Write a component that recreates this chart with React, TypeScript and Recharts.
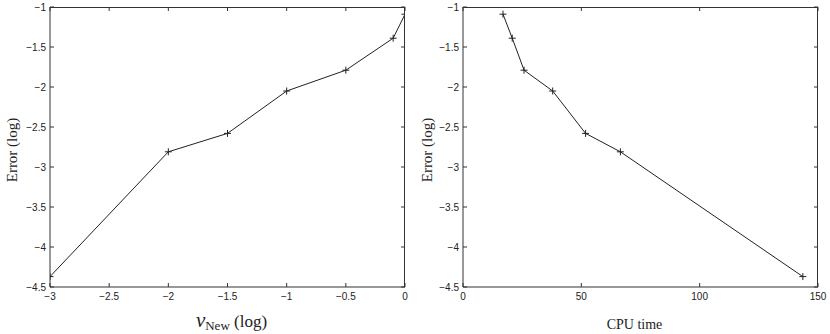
import React from "react";
import { LineChart, Line, XAxis, YAxis, Label } from "recharts";

// left panel: error vs viscosity (log)
const nuLog = [-3, -2, -1.5, -1, -0.5, -0.1, 0];
const errNu = [-4.37, -2.81, -2.58, -2.05, -1.79, -1.39, -1.09];

// right panel: error vs cpu time
const cpuTime = [16.9, 20.8, 25.8, 37.9, 51.8, 66.5, 143.6];
const errCpu = [-1.09, -1.39, -1.79, -2.05, -2.58, -2.81, -4.37];

const nuTicks = [-3, -2.5, -2, -1.5, -1, -0.5, 0];
const cpuTicks = [0, 50, 100, 150];
const errTicks = [-4.5, -4, -3.5, -3, -2.5, -2, -1.5, -1];
const errDomain = [-4.5, -1];

const leftData = nuLog.map((x, i) => ({ x, y: errNu[i] }));
const rightData = cpuTime.map((x, i) => ({ x, y: errCpu[i] }));

const W = 415;
const H = 334;
const TOP = 7;
const XAXIS_H = 47;

const FRAME = "#333";
const SANS = "'Liberation Sans', Arial, sans-serif";
const SERIF = "'Liberation Serif', 'Times New Roman', serif";

const fmt = (v: number) => (v < 0 ? "\u2212" + String(-v) : String(v));

const BottomTick = (p: any) => (
    <g>
        <line x1={p.x} y1={p.y} x2={p.x} y2={p.y - 4} stroke={FRAME} />
        <text x={p.x} y={p.y + 13} textAnchor="middle" fontSize={10} fontFamily={SANS} fill="#222">
            {fmt(p.payload.value)}
        </text>
    </g>
);
const LeftTick = (p: any) => (
    <g>
        <line x1={p.x} y1={p.y} x2={p.x + 4} y2={p.y} stroke={FRAME} />
        <text x={p.x - 4} y={p.y + 4} textAnchor="end" fontSize={10} fontFamily={SANS} fill="#222">
            {fmt(p.payload.value)}
        </text>
    </g>
);

const PlusDot = (p: any) => (
    <path
        key={p.index}
        d={`M${p.cx - 3.5},${p.cy}H${p.cx + 3.5}M${p.cx},${p.cy - 3.5}V${p.cy + 3.5}`}
        stroke="#222"
        strokeWidth={1}
        fill="none"
    />
);

const yLabel = (props: any) => {
    const vb = props.viewBox;
    const cy = vb.y + vb.height / 2 + 3;
    return (
        <text x={17} y={cy} transform={`rotate(-90 17 ${cy})`} textAnchor="middle"
            fontSize={15} fontFamily={SERIF} fill="#222">
            Error (log)
        </text>
    );
};

const nuLabel = (props: any) => {
    const vb = props.viewBox;
    return (
        <text x={vb.x + vb.width / 2 + 4} y={vb.y + 40} textAnchor="middle" fontFamily={SERIF} fill="#222" fontSize={17}>
            <tspan fontSize={21} fontStyle="italic">ν</tspan>
            <tspan fontSize={13} dy={3}>New</tspan>
            <tspan dy={-3}> (log)</tspan>
        </text>
    );
};

const cpuLabel = (props: any) => {
    const vb = props.viewBox;
    return (
        <text x={vb.x + vb.width / 2 - 6} y={vb.y + 42} textAnchor="middle" fontFamily={SERIF} fill="#222" fontSize={14}>
            CPU time
        </text>
    );
};

// box + inward ticks on top and right edges (matlab style frame)
function Frame(props: { left: number; right: number; xDomain: number[]; xTicks: number[] }) {
    const pw = W - props.left - props.right;
    const ph = H - TOP - XAXIS_H;
    const sx = (v: number) => props.left + ((v - props.xDomain[0]) / (props.xDomain[1] - props.xDomain[0])) * pw;
    const sy = (v: number) => TOP + ((errDomain[1] - v) / (errDomain[1] - errDomain[0])) * ph;
    return (
        <>
            <div style={{
                position: "absolute", left: props.left, top: TOP, width: pw, height: ph,
                borderTop: "1px solid " + FRAME, borderRight: "1px solid " + FRAME,
                boxSizing: "border-box", pointerEvents: "none", zIndex: 5,
            }} />
            <svg width={W} height={H} style={{ position: "absolute", left: 0, top: 0, pointerEvents: "none", zIndex: 6 }}>
                <line x1={props.left} x2={props.left + pw} y1={TOP + 0.5} y2={TOP + 0.5} stroke={FRAME} />
                <line x1={props.left + pw - 0.5} x2={props.left + pw - 0.5} y1={TOP} y2={TOP + ph} stroke={FRAME} />
                {props.xTicks.map((t) => (
                    <line key={"t" + t} x1={sx(t)} x2={sx(t)} y1={TOP} y2={TOP + 4} stroke={FRAME} />
                ))}
                {errTicks.map((t) => (
                    <line key={"r" + t} x1={props.left + pw} x2={props.left + pw - 4} y1={sy(t)} y2={sy(t)} stroke={FRAME} />
                ))}
            </svg>
        </>
    );
}

function Panel(props: { data: any[]; xDomain: number[]; xTicks: number[]; yWidth: number; right: number; xLabel: any }) {
    return (
        <div style={{ position: "relative", width: W, height: H, flex: "none" }}>
            <LineChart width={W} height={H} data={props.data}
                margin={{ top: TOP, right: props.right, left: 0, bottom: 0 }}>
                <XAxis dataKey="x" type="number" domain={props.xDomain} ticks={props.xTicks} allowDataOverflow
                    height={XAXIS_H} tickSize={0} tickMargin={0} tickLine={false} tick={BottomTick}
                    axisLine={{ stroke: FRAME }} interval={0}>
                    <Label content={props.xLabel} />
                </XAxis>
                <YAxis dataKey="y" type="number" domain={errDomain} ticks={errTicks} allowDataOverflow
                    width={props.yWidth} tickSize={0} tickMargin={0} tickLine={false} tick={LeftTick}
                    axisLine={{ stroke: FRAME }} interval={0}>
                    <Label content={yLabel} />
                </YAxis>
                <Line dataKey="y" stroke="#222" strokeWidth={1} dot={PlusDot} activeDot={false}
                    isAnimationActive={false} />
            </LineChart>
            <Frame left={props.yWidth} right={props.right} xDomain={props.xDomain} xTicks={props.xTicks} />
        </div>
    );
}

export default function App() {
    return (
        <div style={{ position: "absolute", left: 0, top: 0, width: 830, height: 334, background: "#fff", display: "flex" }}>
            <Panel data={leftData} xDomain={[-3, 0]} xTicks={nuTicks} yWidth={50} right={10} xLabel={nuLabel} />
            <Panel data={rightData} xDomain={[0, 150]} xTicks={cpuTicks} yWidth={48} right={12} xLabel={cpuLabel} />
        </div>
    );
}
